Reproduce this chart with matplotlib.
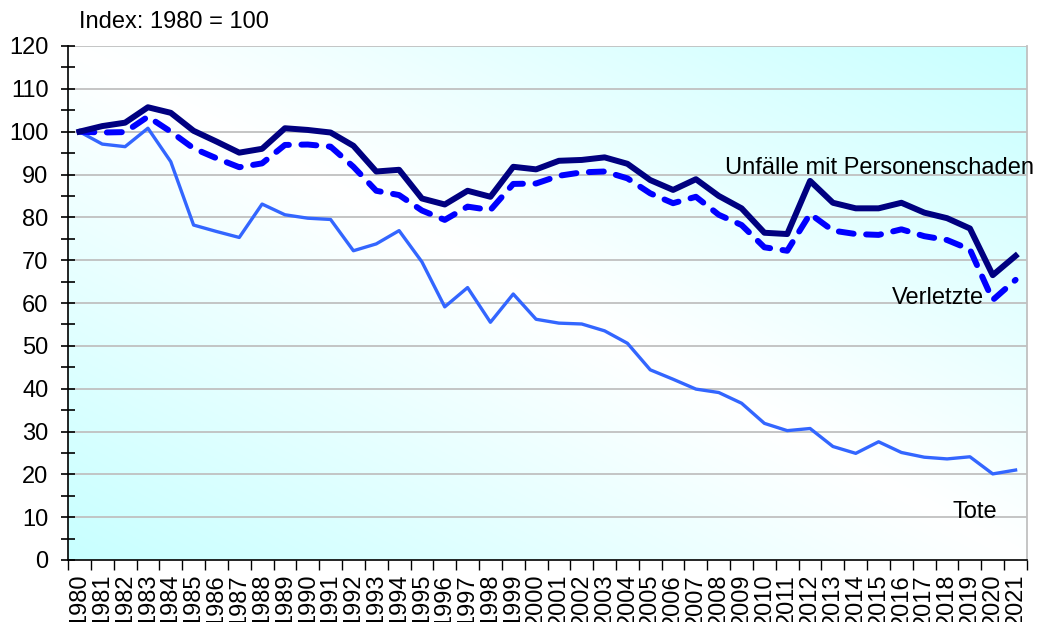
import numpy as np
import matplotlib
matplotlib.use("Agg")
import matplotlib.pyplot as plt
from matplotlib.colors import LinearSegmentedColormap

plt.rcParams["font.family"] = ["Liberation Sans", "DejaVu Sans"]

years = list(range(1980, 2022))
unfaelle = [100, 101.3, 102.1, 105.7, 104.4, 100.2, 97.7, 95.1, 96.0, 100.8,
            100.4, 99.8, 96.7, 90.7, 91.1, 84.4, 83.0, 86.2, 84.8, 91.8,
            91.2, 93.2, 93.4, 94.0, 92.5, 88.7, 86.4, 88.9, 85.0, 82.1,
            76.4, 76.1, 88.5, 83.4, 82.1, 82.1, 83.4, 81.1, 79.8, 77.4,
            66.5, 71.0]
verletzte = [100, 99.8, 99.9, 103.5, 100.0, 96.1, 93.8, 91.7, 92.6, 96.9,
             97.0, 96.5, 91.8, 86.2, 85.2, 81.6, 79.4, 82.5, 81.7, 87.8,
             87.9, 89.7, 90.5, 90.7, 89.1, 85.6, 83.3, 84.8, 80.6, 78.2,
             73.0, 72.2, 80.8, 76.9, 76.1, 75.9, 77.2, 75.6, 74.7, 72.5,
             60.7, 65.4]
tote = [100, 97.1, 96.5, 100.8, 93.0, 78.2, 76.7, 75.3, 83.1, 80.6,
        79.8, 79.5, 72.2, 73.8, 76.9, 69.6, 59.1, 63.6, 55.5, 62.1,
        56.2, 55.3, 55.1, 53.5, 50.6, 44.4, 42.2, 39.9, 39.1, 36.6,
        31.9, 30.2, 30.7, 26.5, 24.9, 27.6, 25.1, 24.0, 23.6, 24.1,
        20.1, 21.0]

W, H = 1037, 622
fig = plt.figure(figsize=(W / 100, H / 100), dpi=100)
ax = fig.add_axes([68 / W, (H - 560) / H, (1027 - 68) / W, (560 - 46) / H])

x = np.arange(len(years))

# diagonal gradient background: cyan -> white -> cyan
cmap = LinearSegmentedColormap.from_list("bg", ["#c8ffff", "#ffffff", "#c8ffff"])
gx, gy = np.meshgrid(np.linspace(0, 1, 300), np.linspace(0, 1, 300))
grad = (gx + gy) / 2
ax.imshow(grad, cmap=cmap, extent=[-0.5, len(years) - 0.5, 0, 120],
          origin="lower", aspect="auto", zorder=0, interpolation="bilinear")

for v in range(10, 121, 10):
    ax.axhline(v, color="#c0c0c0", lw=1.3, zorder=1)

ax.plot(x, tote, color="#3366ff", lw=2.4, zorder=3)
ax.plot(x, verletzte, color="#0000ff", lw=4.3, ls=(0, (2.5, 2.1)),
        dash_capstyle="round", zorder=4)
ax.plot(x, unfaelle, color="#000080", lw=4.3, zorder=5)

ax.set_xlim(-0.5, len(years) - 0.5)
ax.set_ylim(0, 120)

ax.set_xticks(x)
ax.set_xticklabels([str(y) for y in years], rotation=90, fontsize=17)
ax.set_xticks(np.arange(-0.5, len(years), 1), minor=True)
ax.tick_params(axis="x", which="major", length=0, pad=10)
ax.tick_params(axis="x", which="minor", length=7, width=1, direction="out")

ax.set_yticks(range(0, 121, 10))
ax.set_yticks(range(5, 120, 10), minor=True)
ax.tick_params(axis="y", which="both", length=10, width=1.2, direction="inout",
               labelsize=17, pad=9)

ax.spines["top"].set_visible(False)
ax.spines["right"].set_color("#c0c0c0")
ax.spines["right"].set_linewidth(1.3)
ax.spines["left"].set_linewidth(1.2)
ax.spines["bottom"].set_linewidth(1.2)

fig.text(79 / W, 1 - 22 / H, "Index: 1980 = 100", fontsize=17, va="center", ha="left")

ax.text(41.8, 91.5, "Unfälle mit Personenschaden", fontsize=17, ha="right", va="center")
ax.text(39.6, 61.2, "Verletzte", fontsize=17, ha="right", va="center")
ax.text(39.2, 11.2, "Tote", fontsize=17, ha="center", va="center")

fig.savefig("out.png", dpi=100)
